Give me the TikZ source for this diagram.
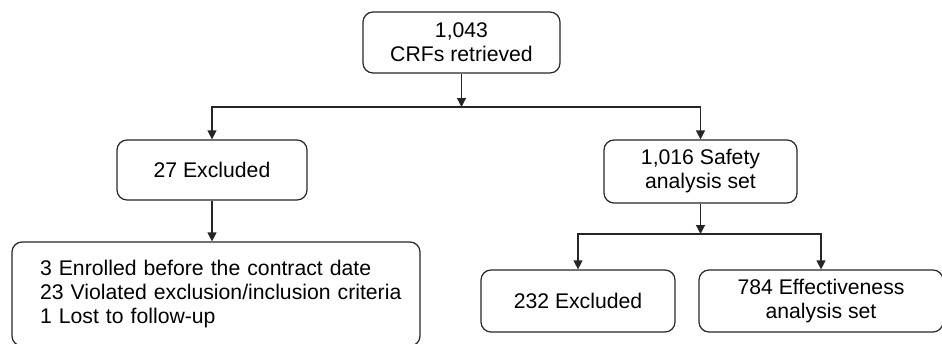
\documentclass[tikz,border=0pt]{standalone}
\usepackage{fontspec}
\setmainfont{Liberation Sans}
\usetikzlibrary{arrows.meta,positioning}
\tikzset{
  fcbox/.style={
    rectangle, rounded corners=10pt, draw=black!85, line width=1.2pt,
    align=center, inner sep=2pt,
    font=\fontsize{21.2}{24}\selectfont
  },
  fcarrow/.style={-{Triangle[width=9pt,length=9pt]}, line width=1.2pt, draw=black!85},
  fcline/.style={line width=1.2pt, draw=black!85},
}
\begin{document}
\begin{tikzpicture}[x=1pt, y=-1pt]
  \useasboundingbox (0,0) rectangle (942,343);
  \node (n1) [fcbox, minimum width=197pt, minimum height=61pt] at (461.5,42.5) {1,043\\CRFs retrieved};
  \node (n2) [fcbox, minimum width=190pt, minimum height=60pt] at (212,170) {27 Excluded};
  \node (n3) [fcbox, minimum width=193pt, minimum height=63pt] at (700.5,171.5) {1,016 Safety\\analysis set};
  \node (n4) [fcbox, align=left, text width=352pt, inner xsep=28pt, minimum height=104pt] at (216,294) {3 Enrolled before the contract date\\\mbox{23 Violated exclusion/inclusion criteria}\\1 Lost to follow-up};
  \node (n5) [fcbox, minimum width=194pt, minimum height=62pt] at (578,301) {232 Excluded};
  \node (n6) [fcbox, minimum width=244pt, minimum height=62pt] at (821,301) {784 Effectiveness\\analysis set};
  % branch points
  \coordinate (b1) at (461.5,107);
  \coordinate (b2) at (700.5,234);
  \draw[fcarrow] (n1) -- (b1);
  \draw[fcline] (212,107) -- (700.5,107);
  \draw[fcarrow] (b1) -| (n2);
  \draw[fcarrow] (b1) -| (n3);
  \draw[fcarrow] (n2) -- (n2 |- n4.north);
  \draw[fcarrow] (n3) -- (b2);
  \draw[fcarrow] (b2) -| (n5);
  \draw[fcarrow] (b2) -| (n6);
\end{tikzpicture}
\end{document}
